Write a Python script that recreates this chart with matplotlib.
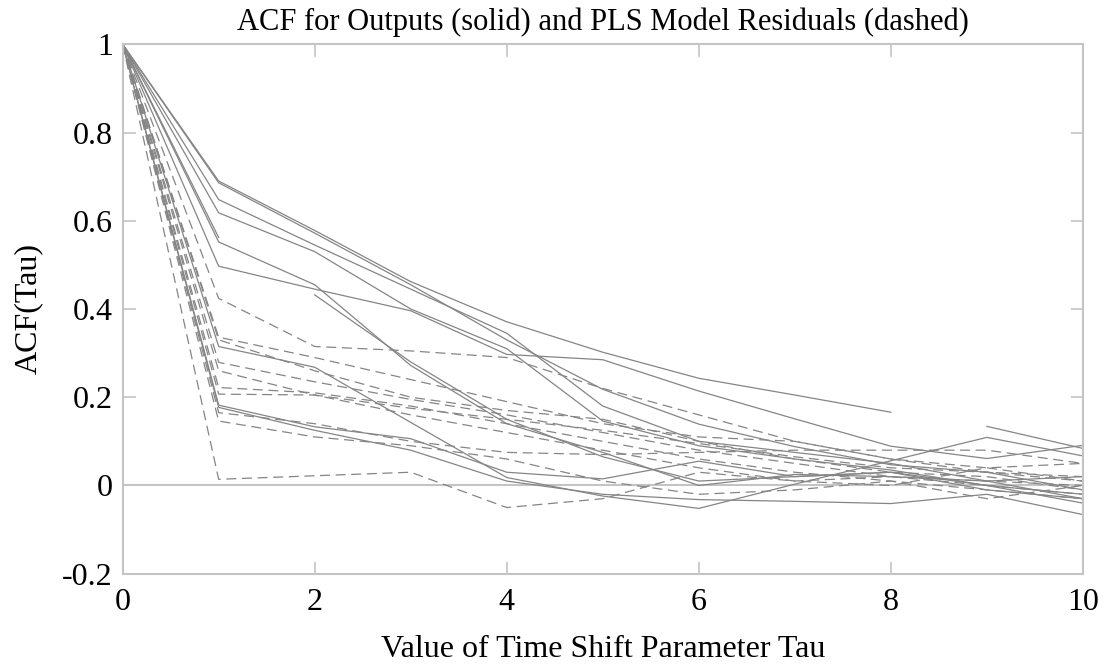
import numpy as np
import matplotlib
matplotlib.use("Agg")
import matplotlib.pyplot as plt

plt.rcParams["font.family"] = ["Liberation Serif", "DejaVu Serif"]
plt.rcParams["axes.unicode_minus"] = False

nan = np.nan
tau = np.arange(11)

# ACF of outputs (solid) - NaN marks gaps in the drawn lines
solid = {
    "A":  [1, .690, .578, .462, .371, .302, .243, .205, .166, nan, nan],
    "A2": [nan, nan, nan, nan, nan, nan, nan, nan, nan, .134, .084],
    "B":  [1, .686, .572, .455, .330, .218, .139, .088, .047, .030, -.010],
    "C":  [1, .648, .545, .445, .345, .180, .100, .075, .050, .010, -.030],
    "D":  [1, .618, .530, .400, .310, .146, .090, .060, .035, .000, -.040],
    "E":  [1, .562, nan, nan, nan, nan, nan, nan, nan, nan, nan],
    "E2": [nan, nan, .432, .280, .150, .065, .010, .020, .030, -.010, -.030],
    "G":  [1, .552, .455, .272, .140, .075, .000, .025, .020, .010, .020],
    "F":  [1, .497, .445, .396, .297, .285, .214, .151, .089, .061, .091],
    "H":  [1, .315, .268, .143, .018, -.024, -.052, .003, .056, .109, .067],
    "I":  [1, .182, .133, .106, .030, .015, .055, .020, .030, .000, -.020],
    "J":  [1, .177, .125, .080, .010, -.020, -.032, -.036, -.041, -.020, -.066],
}

# ACF of PLS model residuals (dashed)
dashed = {
    "D1":  [1, .424, .315, .305, .290, .220, .160, .100, .060, .030, .010],
    "D2":  [1, .336, .290, .240, .190, .140, .110, .100, .060, .040, .050],
    "D3":  [1, .330, .260, .200, .170, .150, .100, .060, .030, .020, -.010],
    "D4":  [1, .279, .235, .195, .160, .120, .080, .050, .020, .000, -.020],
    "D5":  [1, .260, .205, .175, .150, .125, .095, .065, .040, .030, .020],
    "D6":  [1, .222, .210, .180, .140, .100, .060, .030, .010, -.010, -.030],
    "D7":  [1, .207, .205, .160, .120, .080, .040, .010, .000, .040, .010],
    "D8":  [1, .165, .140, .100, .075, .070, .075, .080, .080, .080, .050],
    "D9":  [1, .146, .110, .090, .060, .010, -.020, -.010, .010, -.030, .000],
    "D10": [1, .014, .022, .030, -.050, -.030, .030, .010, .020, .010, .000],
}

xticks = [0, 2, 4, 6, 8, 10]
yticks = [-0.2, 0, 0.2, 0.4, 0.6, 0.8, 1]

fig = plt.figure(figsize=(11.05, 6.71), dpi=100)
ax = fig.add_axes([0.111, 0.145, 0.869, 0.789])

frame = "#c4c4c4"
ax.axhline(0, color=frame, lw=1.5, zorder=1)

for v in solid.values():
    ax.plot(tau, v, color="#858585", lw=0.9, zorder=2)
for v in dashed.values():
    ax.plot(tau, v, color="#858585", lw=0.9, dashes=(8, 4.5), zorder=2)

ax.set_xlim(0, 10)
ax.set_ylim(-0.2, 1)
ax.set_xticks(xticks)
ax.set_yticks(yticks)
ax.set_xticklabels([f"{t:g}" for t in xticks])
ax.set_yticklabels([f"{t:g}" for t in yticks])
ax.tick_params(direction="in", length=9, width=1.2, color=frame,
               labelsize=23, top=True, right=True)
ax.tick_params(axis="x", pad=10)
ax.tick_params(axis="y", pad=7)
for s in ax.spines.values():
    s.set_color(frame)
    s.set_linewidth(1.5)

ax.set_title("ACF for Outputs (solid) and PLS Model Residuals (dashed)",
             fontsize=22, pad=10)
ax.set_xlabel("Value of Time Shift Parameter Tau", fontsize=23, labelpad=13)
ax.set_ylabel("ACF(Tau)", fontsize=23, labelpad=14)

fig.savefig("out.png", dpi=100)
